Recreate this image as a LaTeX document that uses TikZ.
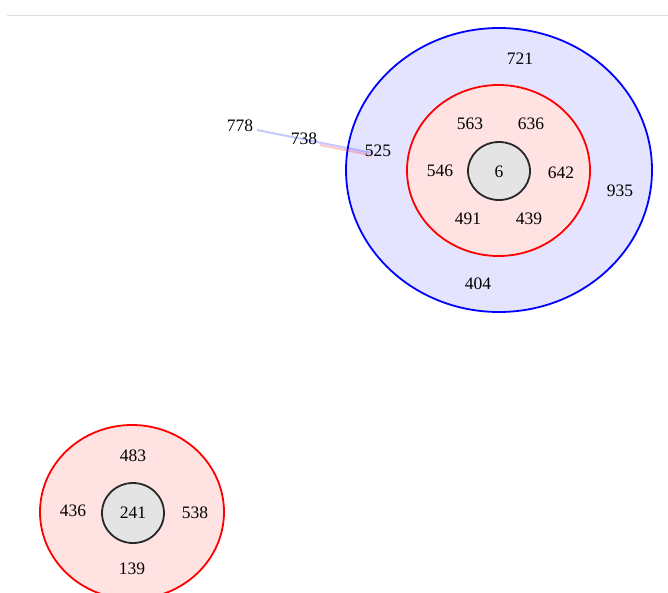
\documentclass[tikz,border=0pt]{standalone}
\usepackage{fontspec}
\setmainfont{Liberation Serif}
\begin{document}
\begin{tikzpicture}[x=1pt,y=-1pt,
  lbl/.style={inner sep=1pt,font=\fontsize{17.5}{19}\selectfont},
  outerring/.style={draw=blue,line width=1.8pt,fill={rgb,255:red,228;green,228;blue,255}},
  midring/.style={draw=red,line width=1.8pt,fill={rgb,255:red,255;green,226;blue,226}},
  core/.style={draw={rgb,255:red,40;green,40;blue,40},line width=1.8pt,fill={rgb,255:red,228;green,228;blue,228}},
  bluelink/.style={draw=blue,opacity=0.22,line width=2pt},
  redlink/.style={draw=red,opacity=0.22,line width=2pt}]
\useasboundingbox (0,0) rectangle (668,592);
\draw[draw={rgb,255:red,221;green,221;blue,221},line width=1pt] (7,15) -- (668,15);
% top cluster
\draw[outerring] (499,170) ellipse [x radius=153,y radius=142];
\draw[midring] (498.5,170.5) ellipse [x radius=91.5,y radius=85.5];
\draw[core] (499,171) ellipse [x radius=31,y radius=29];
% bottom cluster
\draw[midring] (132,512) ellipse [x radius=92,y radius=87];
\draw[core] (133,513) ellipse [x radius=31,y radius=30];
% labels
\node[lbl] (n721) at (520,59) {721};
\node[lbl] (n935) at (620,191) {935};
\node[lbl] (n404) at (478,284) {404};
\node[lbl] (n563) at (470,124) {563};
\node[lbl] (n636) at (531,124) {636};
\node[lbl] (n546) at (440,171) {546};
\node[lbl] (n642) at (561,173) {642};
\node[lbl] (n491) at (468,219) {491};
\node[lbl] (n439) at (529,219) {439};
\node[lbl] (n6) at (499,172) {6};
\node[lbl] (n525) at (378,151) {525};
\node[lbl] (n738) at (304,139) {738};
\node[lbl] (n778) at (240,126) {778};
\node[lbl] (n483) at (133,456) {483};
\node[lbl] (n436) at (73,511) {436};
\node[lbl] (n241) at (133,513) {241};
\node[lbl] (n538) at (195,513) {538};
\node[lbl] (n139) at (132,569) {139};
% links
\coordinate (a) at (257,130);
\coordinate (b) at (372,153);
\coordinate (c) at (320,145);
\coordinate (d) at (370,155);
\path[bluelink] (a) -- (b);
\path[redlink] (c) -- (d);
\end{tikzpicture}
\end{document}
